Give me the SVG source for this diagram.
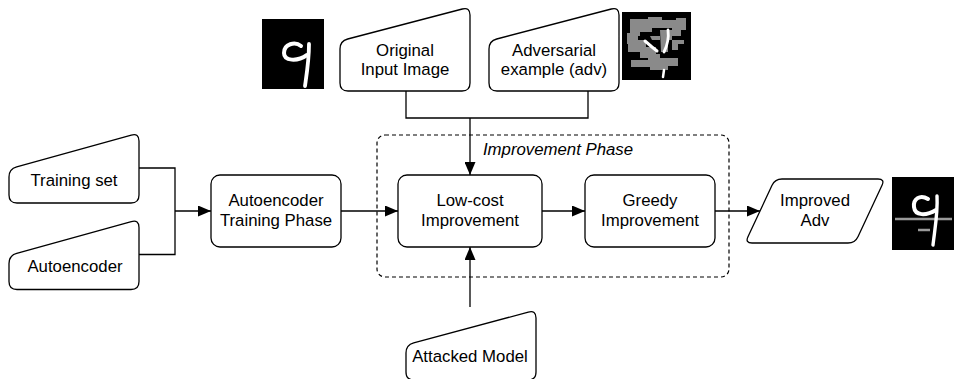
<svg xmlns="http://www.w3.org/2000/svg" width="955" height="379" viewBox="0 0 955 379">
<style>
.shape{fill:#fff;stroke:#000;stroke-width:1.3}
.edge{fill:none;stroke:#000;stroke-width:1.3}
.lbl{font-family:"Liberation Sans",Arial,Helvetica,sans-serif;font-size:16.8px;fill:#000;text-anchor:middle}
.ital{font-style:italic}
.dig{fill:none;stroke:#fff;stroke-linecap:round;stroke-linejoin:round}
</style>
<defs>
<marker id="arr" viewBox="0 0 13 11" markerWidth="13" markerHeight="11" refX="13" refY="5.5" orient="auto" markerUnits="userSpaceOnUse">
<path d="M0,0 L13,5.5 L0,11 Z" fill="#000"/>
</marker>
<filter id="soft" x="-20%" y="-20%" width="140%" height="140%"><feGaussianBlur stdDeviation="0.6"/></filter>
</defs>
<rect width="955" height="379" fill="#fff"/>

<g id="improvement-phase">
<rect x="377" y="135" width="352" height="142" rx="8" fill="none" stroke="#000" stroke-width="1.2" stroke-dasharray="4 3"/>
<text class="lbl ital" x="558" y="155">Improvement Phase</text>
</g>

<g id="connectors">
<path class="edge" d="M139,168 H175 V254.5 H139"/>
<path class="edge" d="M175,211 H211" marker-end="url(#arr)"/>
<path class="edge" d="M341,211 H398" marker-end="url(#arr)"/>
<path class="edge" d="M542,211 H585" marker-end="url(#arr)"/>
<path class="edge" d="M715,211 H760" marker-end="url(#arr)"/>
<path class="edge" d="M406,91 V118 H588 V91"/>
<path class="edge" d="M470,118 V175" marker-end="url(#arr)"/>
<path class="edge" d="M470,307 V247" marker-end="url(#arr)"/>
</g>

<g id="training-set" transform="translate(9,133)">
<path class="shape" d="M122.3,2.1 Q130,0 130,8 V62 Q130,70 122,70 H8 Q0,70 0,62 V44 Q0,36 7.7,33.9 Z"/>
<text class="lbl" x="65" y="53">Training set</text>
</g>

<g id="autoencoder" transform="translate(9,219.5)">
<path class="shape" d="M122.3,2.1 Q130,0 130,8 V62 Q130,70 122,70 H8 Q0,70 0,62 V44 Q0,36 7.7,33.9 Z"/>
<text class="lbl" x="66" y="52">Autoencoder</text>
</g>

<g id="autoencoder-training-phase">
<rect class="shape" x="211" y="175" width="130" height="72" rx="9"/>
<text class="lbl" x="276" y="206">Autoencoder</text>
<text class="lbl" x="276" y="226">Training Phase</text>
</g>

<g id="low-cost-improvement">
<rect class="shape" x="398" y="175" width="144" height="72" rx="9"/>
<text class="lbl" x="470" y="206">Low-cost</text>
<text class="lbl" x="470" y="226">Improvement</text>
</g>

<g id="greedy-improvement">
<rect class="shape" x="585" y="175" width="130" height="72" rx="9"/>
<text class="lbl" x="650" y="206">Greedy</text>
<text class="lbl" x="650" y="226">Improvement</text>
</g>

<g id="improved-adv">
<path class="shape" d="M772.03,185.34 Q775,179 782,179 H878 Q885,179 882.03,185.34 L857.97,236.66 Q855,243 848,243 H752 Q745,243 747.97,236.66 Z"/>
<text class="lbl" x="815" y="206">Improved</text>
<text class="lbl" x="815" y="226">Adv</text>
</g>

<g id="original-input-image" transform="translate(340,7)">
<path class="shape" d="M122.3,2 Q130,0 130,8 V76 Q130,84 122,84 H8 Q0,84 0,76 V42 Q0,34 7.7,32 Z"/>
<text class="lbl" x="65" y="49">Original</text>
<text class="lbl" x="65" y="68">Input Image</text>
</g>

<g id="adversarial-example" transform="translate(489,7)">
<path class="shape" d="M122.3,2 Q130,0 130,8 V76 Q130,84 122,84 H8 Q0,84 0,76 V42 Q0,34 7.7,32 Z"/>
<text class="lbl" x="65" y="49">Adversarial</text>
<text class="lbl" x="65" y="68">example (adv)</text>
</g>

<g id="attacked-model" transform="translate(406,310)">
<path class="shape" d="M122.3,2.1 Q130,0 130,8 V62 Q130,70 122,70 H8 Q0,70 0,62 V43 Q0,35 7.7,32.9 Z"/>
<text class="lbl" x="64" y="52">Attacked Model</text>
</g>

<g id="image-original">
<rect x="262" y="19" width="62" height="70" fill="#000"/>
<g filter="url(#soft)">
<path class="dig" stroke-width="4" d="M301,46 C295,41 284,44 284,53 C284,61 297,62 307,55"/>
<path class="dig" stroke-width="3.8" d="M309,44 C309,60 307,72 305,86"/>
</g>
</g>

<g id="image-adversarial">
<rect x="622" y="12" width="69" height="68" fill="#000"/>
<g fill="#8a8a8a">
<path d="M630,19 H648 V17 H662 V20 H676 V18 H686 V30 H681 V36 H672 V28 H652 V32 H640 V36 H630 Z"/>
<path d="M627,33 H638 V40 H646 V47 H656 V54 H660 V58 H640 V52 H628 V44 H627 Z"/>
<path d="M660,30 H672 V40 H668 V52 H661 Z"/>
<path d="M672,40 H684 V44 H678 V50 H672 Z"/>
<path d="M631,60 H648 V58 H678 V66 H668 V70 H650 V67 H631 Z"/>
<path d="M650,36 H660 V40 H652 Z"/>
</g>
<g filter="url(#soft)">
<path class="dig" stroke-width="3" d="M645,41 L652,47 L657,51"/>
<path class="dig" stroke-width="2.8" d="M668,30 C669,38 667,46 664,52"/>
<path class="dig" stroke-width="2.5" d="M664,70 L663,77"/>
</g>
</g>

<g id="image-improved">
<rect x="892" y="177" width="62" height="73" fill="#000"/>
<path d="M895,219 H952" stroke="#9a9a9a" stroke-width="2.5"/>
<path d="M918,230 H930" stroke="#9a9a9a" stroke-width="2.5"/>
<g filter="url(#soft)">
<path class="dig" stroke-width="4" d="M928,199 C920,194 913,199 914,207 C915,216 926,216 936,210"/>
<path class="dig" stroke-width="3.4" d="M937,196 C938,212 935,228 933,245"/>
</g>
</g>
</svg>
